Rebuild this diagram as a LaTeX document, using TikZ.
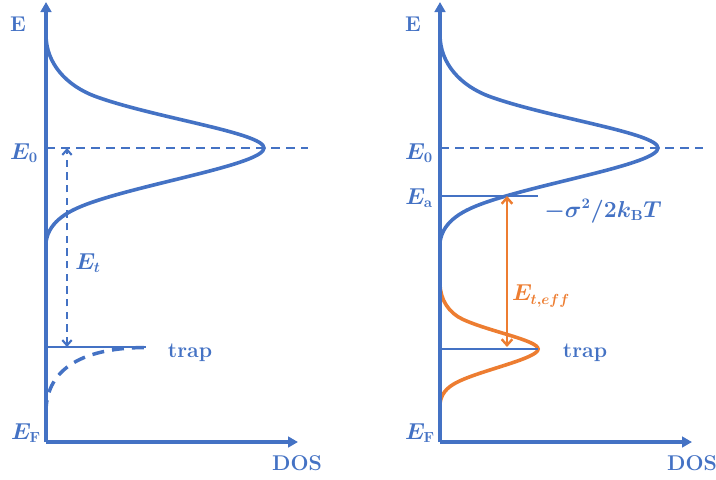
\documentclass[tikz,border=0pt]{standalone}
\usepackage{amsmath,amssymb}
\usepackage{tikz}
\usetikzlibrary{arrows.meta,positioning}
\definecolor{dosblue}{RGB}{68,114,196}
\definecolor{trapcol}{RGB}{237,125,49}

% Gaussian-like density of states, axis at x=0, peak at y=0
\newcommand{\dosshape}{(0,-113) .. controls (0,-85) and (20,-62) .. (51,-51)
  .. controls (110,-30) and (218,-15) .. (218,0)
  .. controls (218,16) and (100,35) .. (44,55)
  .. controls (25,61.8) and (3,72) .. (0,94)}

\tikzset{
  axisline/.style={dosblue, line width=3pt, -{Triangle[length=7.5pt,width=8pt]}},
  doscurve/.style={dosblue, line width=2.7pt},
  levelline/.style={dosblue, line width=1.6pt},
  levelguide/.style={dosblue, line width=2pt, dash pattern=on 6.75pt off 4.5pt},
  trapdash/.style={dosblue, line width=2.6pt, dash pattern=on 9pt off 6pt},
  gaparrow/.style={dosblue, line width=1.6pt, dash pattern=on 5.5pt off 4pt, {Straight Barb[length=4pt,width=7pt]}-{Straight Barb[length=4pt,width=7pt]}},
  effarrow/.style={trapcol, line width=1.8pt, {Straight Barb[length=4.5pt,width=8pt]}-{Straight Barb[length=4.5pt,width=8pt]}},
  lbl/.style={font=\fontsize{16}{19}\selectfont\bfseries\boldmath, text=dosblue, inner sep=1pt}
}

\begin{document}
\begin{tikzpicture}[x=0.75pt, y=-0.75pt]
  \useasboundingbox (0,0) rectangle (716,479);

  % ---- left panel ----
  \coordinate (oL) at (46,442);
  \coordinate (yL) at (46,2);
  \coordinate (xL) at (298,442);
  \draw[levelguide] (46,148) -- (308,148);
  \begin{scope}[shift={(46,148)}]
    \draw[doscurve] \dosshape;
  \end{scope}
  \draw[axisline] (oL) -- (yL);
  \draw[axisline] (oL) -- (xL);
  % trap level and its tail
  \coordinate (trapL) at (46,347);
  \coordinate (trapLend) at (146,347);
  \draw[levelline] (trapL) -- (trapLend);
  \draw[trapdash] (46,412) .. controls (46,373) and (76,348) .. (145,347.5);
  % trap depth
  \coordinate (etTop) at (67,148);
  \coordinate (etBot) at (67,347);
  \draw[gaparrow] (etBot) -- (etTop);
  \node[lbl] (eAxisL) at (18,24) {E};
  \node[lbl] (e0L) at (24,153) {$E_{0}$};
  \node[lbl] (efL) at (26,433) {$E_{\mathbf{F}}$};
  \node[lbl] (dosL) at (297,463) {DOS};
  \node[lbl] (etL) at (88,263) {$E_t$};
  \node[lbl] (trapLabL) at (190,353) {trap};

  % ---- right panel ----
  \coordinate (oR) at (440,442);
  \coordinate (yR) at (440,2);
  \coordinate (xR) at (692,442);
  \draw[levelguide] (440,148) -- (703,148);
  \begin{scope}[shift={(440,148)}]
    \draw[doscurve] \dosshape;
  \end{scope}
  \begin{scope}[shift={(440,349)}, xscale=0.45, yscale=0.58]
    \draw[doscurve, trapcol] \dosshape;
  \end{scope}
  \draw[axisline] (oR) -- (yR);
  \draw[axisline] (oR) -- (xR);
  \coordinate (eaR) at (440,196);
  \coordinate (eaRend) at (538,196);
  \draw[levelline] (eaR) -- (eaRend);
  \coordinate (trapR) at (440,349);
  \coordinate (trapRend) at (538,349);
  \draw[levelline] (trapR) -- (trapRend);
  \coordinate (effTop) at (507,196);
  \coordinate (effBot) at (507,347);
  \draw[effarrow] (effBot) -- (effTop);
  \node[lbl] (eAxisR) at (413,24) {E};
  \node[lbl] (e0R) at (419,153) {$E_{0}$};
  \node[lbl] (eaLab) at (419,198) {$E_{\mathbf{a}}$};
  \node[lbl] (shiftLab) at (603,211) {$-\sigma^{2}/2k_{\mathbf{B}}T$};
  \node[lbl, text=trapcol] (effLab) at (541,296) {$E_{t,eff}$};
  \node[lbl] (trapLabR) at (585,353) {trap};
  \node[lbl] (efR) at (420,433) {$E_{\mathbf{F}}$};
  \node[lbl] (dosR) at (692,463) {DOS};
\end{tikzpicture}
\end{document}
